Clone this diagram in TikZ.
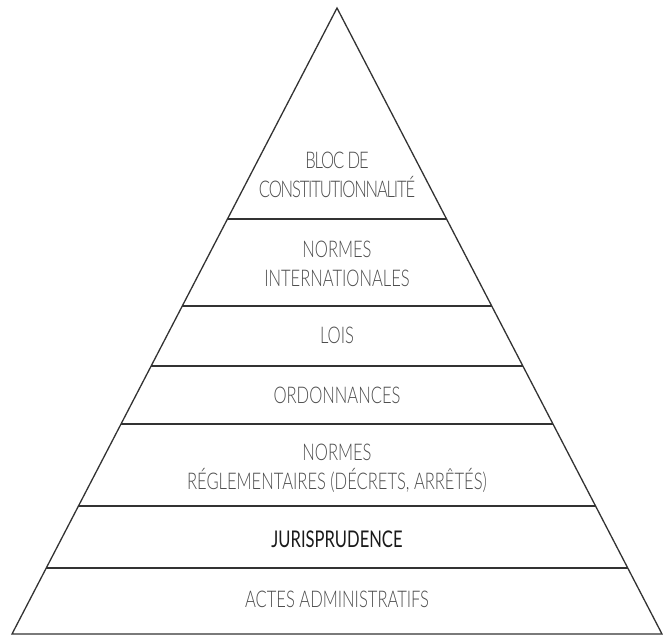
\documentclass[tikz,border=0pt]{standalone}
\usepackage{fontspec}
\setmainfont{Lato}[UprightFont=* Light, FakeStretch=0.72]
\newfontfamily\jurfont{Lato}[FakeStretch=0.72]
\usetikzlibrary{calc}
\definecolor{edge}{HTML}{333333}
\definecolor{txt}{HTML}{4D4D4D}
\definecolor{jur}{HTML}{1A1A1A}
\begin{document}
\begin{tikzpicture}[x=1pt,y=-1pt,
  layer/.style={draw=edge,line width=1.3pt},
  lbl/.style={font=\fontsize{23}{29}\selectfont, text=txt, align=center, inner sep=0pt}]
\useasboundingbox (0,0) rectangle (663,637);
\coordinate (A) at (337,8);
\coordinate (L) at (12,634);
\coordinate (R) at (662,634);
\draw[layer, line join=miter] (A) -- (L) -- (R) -- cycle;
\foreach \y/\n in {219/1,306/2,366/3,424/4,506/5,568/6} {
  \pgfmathsetmacro\t{(\y-8)/626}
  \coordinate (l\n) at ($(A)!\t!(L)$);
  \coordinate (r\n) at ($(A)!\t!(R)$);
  \draw[layer] (l\n) -- (r\n);
}
\node[lbl, font=\fontsize{23}{29}\selectfont\addfontfeature{LetterSpace=-5}] (bloc) at (337,175) {BLOC DE\\CONSTITUTIONNALITÉ};
\node[lbl] (intl) at (337,264) {NORMES\\INTERNATIONALES};
\node[lbl] (lois) at (337,335) {LOIS};
\node[lbl] (ordo) at (337,395) {ORDONNANCES};
\node[lbl] (regl) at (337,468) {NORMES\\RÉGLEMENTAIRES (DÉCRETS, ARRÊTÉS)};
\node[lbl, font=\fontsize{23}{29}\selectfont\jurfont, text=jur] (juri) at (337,539) {JURISPRUDENCE};
\node[lbl] (actes) at (337,599) {ACTES ADMINISTRATIFS};
\end{tikzpicture}
\end{document}
